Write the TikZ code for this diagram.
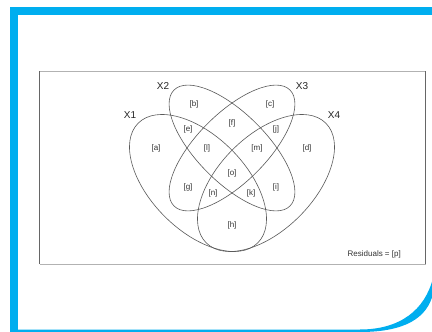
\documentclass[tikz,border=0pt]{standalone}
\usepackage{fontspec}
\setmainfont{Liberation Sans}
\definecolor{framecol}{HTML}{00AEEF}
\definecolor{setcol}{HTML}{5A5A5A}
\begin{document}
\begin{tikzpicture}[x=1pt,y=1pt,
    setring/.style={draw=setcol, line width=0.6pt},
    part/.style={inner sep=0pt, font=\fontsize{8}{9}\selectfont, text=black!80},
    setname/.style={inner sep=0pt, font=\fontsize{10}{11}\selectfont, text=black!85}]
  \useasboundingbox (0,0) rectangle (432,-332);
  % Background
  \fill[white] (0,0) rectangle (432,-332);

  % Blue frame
  \fill[framecol] (10,-7) rectangle (432,-15);
  \fill[framecol] (10,-7) rectangle (18,-332);
  \fill[framecol] (10,-329.5) -- (360,-329.5)
    .. controls (400,-329.5) and (425,-310) .. (433,-278)
    -- (433,-294) .. controls (427,-318) and (405,-332) .. (360,-332)
    -- (10,-332) -- cycle;

  % Plot box
  \draw[gray!60, line width=0.8pt] (39.5,-71) -- (425.5,-71);
  \draw[gray!60, line width=0.8pt] (39.5,-264) -- (425.5,-264);
  \draw[black!60, line width=0.7pt] (39.5,-71) -- (39.5,-264);
  \draw[black!60, line width=0.7pt] (425.5,-71) -- (425.5,-264);

  % Sets
  \draw[setring, rotate around={-45:(198,-183)}] (198,-183) ellipse [x radius=84.6, y radius=47.2];
  \draw[setring, rotate around={-45:(232,-148)}] (232,-148) ellipse [x radius=82, y radius=34.5];
  \draw[setring, rotate around={45:(232,-148)}] (232,-148) ellipse [x radius=82, y radius=34.5];
  \draw[setring, rotate around={45:(266,-183)}] (266,-183) ellipse [x radius=84.6, y radius=47.2];

  % Set names
  \node[setname] (nx1) at (130,-115) {X1};
  \node[setname] (nx2) at (163,-86) {X2};
  \node[setname] (nx3) at (302,-86) {X3};
  \node[setname] (nx4) at (334,-115) {X4};

  % Fractions
  \node[part] (pa) at (156,-148) {[a]};
  \node[part] (pb) at (194,-104) {[b]};
  \node[part] (pc) at (270,-104) {[c]};
  \node[part] (pd) at (307,-148) {[d]};
  \node[part] (pe) at (188,-129) {[e]};
  \node[part] (pf) at (232,-123) {[f]};
  \node[part] (pj) at (276,-129) {[j]};
  \node[part] (pl) at (207,-148) {[l]};
  \node[part] (pm) at (257,-148) {[m]};
  \node[part] (po) at (232,-173) {[o]};
  \node[part] (pg) at (188,-187) {[g]};
  \node[part] (pi) at (276,-187) {[i]};
  \node[part] (pn) at (213,-193) {[n]};
  \node[part] (pk) at (251,-193) {[k]};
  \node[part] (ph) at (232,-225) {[h]};
  \node[part, anchor=east] (resid) at (401,-254) {Residuals = [p]};
\end{tikzpicture}
\end{document}
